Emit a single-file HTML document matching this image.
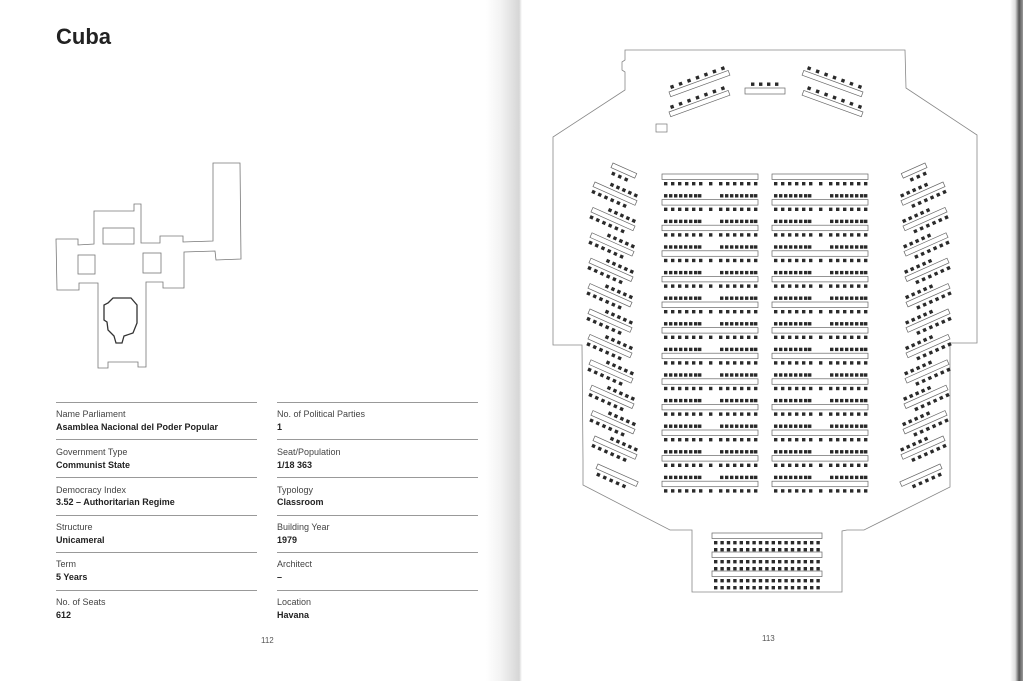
<!DOCTYPE html>
<html><head><meta charset="utf-8"><style>
html,body{margin:0;padding:0;}
body{width:1023px;height:681px;position:relative;overflow:hidden;background:#fff;font-family:"Liberation Sans",sans-serif;color:#222;}
.gut{position:absolute;left:486px;top:0;width:36px;height:681px;background:linear-gradient(to right,#fff 0%,#f3f3f3 40%,#e0e0e0 75%,#d6d6d6 92%,#fff 100%);}
.edge{position:absolute;left:1010px;top:0;width:13px;height:681px;background:linear-gradient(to right,#fff,#ddd 40%,#555 70%,#999);}
.t{position:absolute;font-size:9px;line-height:11px;}
.l{color:#444;}
.v{font-weight:bold;color:#222;}
.hr{position:absolute;height:1px;background:#999;width:201px;}
h1{position:absolute;left:56px;top:24px;margin:0;font-size:22px;font-weight:bold;color:#222;}
.pn{position:absolute;font-size:8px;color:#555;}
</style></head><body>
<div class="gut"></div>
<div class="edge"></div>
<h1>Cuba</h1>

<svg style="position:absolute;left:0;top:0" width="1023" height="681" viewBox="0 0 1023 681">
<g fill="none" stroke="#777" stroke-width="0.8">
<polygon points="56,239 78,239 78,245 94,244 94,211 134,211 134,204 141,204 141,243 160,243 160,236 183,236 183,242 213,241 213,163 240,163 241,259 216,260 215,251 184,252 184,288 163,288 163,282 146,282 146,367 138,367 138,362 108,362 108,368 98,368 98,283 79,283 79,290 57,290"/>
<rect x="103" y="228" width="31" height="16"/>
<rect x="78" y="255" width="17" height="19"/>
<rect x="143" y="253" width="18" height="20"/>
</g>
<polygon points="108,303 113,298 131,298 137,305 137,323 133,333 124,336 122,343 116,343 114,336 108,330 107,322 104,320 104,305" fill="none" stroke="#333" stroke-width="1.3"/>

<polygon points="625,50 905,50 906,88 977,135 977,343 950,343 950,487 864,530 847,530 842,531 842,592 692,592 692,530 670,530 583,485 583,460 582,345 553,345 553,137 625,90 625,72 622,70 622,62 625,60" fill="none" stroke="#888" stroke-width="0.8"/>

<defs>
<g id="sq"><rect width="3.4" height="3.4" fill="#2a2a2a"/></g>
<g id="rb">
<use href="#sq" x="2"/><use href="#sq" x="9"/><use href="#sq" x="16"/><use href="#sq" x="23"/><use href="#sq" x="30"/><use href="#sq" x="37"/>
<use href="#sq" x="47"/>
<use href="#sq" x="57"/><use href="#sq" x="64"/><use href="#sq" x="71"/><use href="#sq" x="78"/><use href="#sq" x="85"/><use href="#sq" x="92"/>
</g>
<g id="ra">
<use href="#sq" x="2"/><use href="#sq" x="7"/><use href="#sq" x="12"/><use href="#sq" x="17"/><use href="#sq" x="22"/><use href="#sq" x="27"/><use href="#sq" x="32"/><use href="#sq" x="36"/>
<use href="#sq" x="58"/><use href="#sq" x="63"/><use href="#sq" x="68"/><use href="#sq" x="73"/><use href="#sq" x="78"/><use href="#sq" x="83"/><use href="#sq" x="88"/><use href="#sq" x="92"/>
</g>
<g id="cu0"><rect x="0" y="0" width="96" height="5.5" fill="none" stroke="#666" stroke-width="0.7"/><use href="#rb" y="8"/></g>
<g id="cu"><use href="#ra" y="-5.5"/><use href="#cu0"/></g>
<g id="blk">
<use href="#cu0" y="174"/>
<use href="#cu" y="199.6"/><use href="#cu" y="225.2"/><use href="#cu" y="250.8"/><use href="#cu" y="276.4"/>
<use href="#cu" y="302"/><use href="#cu" y="327.6"/><use href="#cu" y="353.2"/><use href="#cu" y="378.8"/>
<use href="#cu" y="404.4"/><use href="#cu" y="430"/><use href="#cu" y="455.6"/><use href="#cu" y="481.2"/>
</g>
<g id="su">
<rect x="0" y="0" width="46" height="5" fill="none" stroke="#666" stroke-width="0.7"/>
<use href="#sq" x="15" y="-6"/><use href="#sq" x="21.5" y="-6"/><use href="#sq" x="28" y="-6"/><use href="#sq" x="34.5" y="-6"/><use href="#sq" x="41" y="-6"/>
<use href="#sq" x="1" y="8"/><use href="#sq" x="7.8" y="8"/><use href="#sq" x="14.6" y="8"/><use href="#sq" x="21.4" y="8"/><use href="#sq" x="28.2" y="8"/><use href="#sq" x="35" y="8"/>
</g>
<g id="side">
<g transform="translate(613,163) rotate(24)"><rect width="26" height="5" fill="none" stroke="#666" stroke-width="0.7"/><use href="#sq" x="3" y="8"/><use href="#sq" x="10" y="8"/><use href="#sq" x="17" y="8"/></g>
<use href="#su" transform="translate(595,182) rotate(24)"/>
<use href="#su" transform="translate(593,207.4) rotate(24)"/>
<use href="#su" transform="translate(592,232.8) rotate(24)"/>
<use href="#su" transform="translate(591,258.2) rotate(24)"/>
<use href="#su" transform="translate(590,283.6) rotate(24)"/>
<use href="#su" transform="translate(590,309) rotate(24)"/>
<use href="#su" transform="translate(590,334.4) rotate(24)"/>
<use href="#su" transform="translate(591,359.8) rotate(24)"/>
<use href="#su" transform="translate(592,385.2) rotate(24)"/>
<use href="#su" transform="translate(593,410.6) rotate(24)"/>
<use href="#su" transform="translate(595,436) rotate(24)"/>
<g transform="translate(598,464) rotate(24)"><rect width="44" height="5" fill="none" stroke="#666" stroke-width="0.7"/><use href="#sq" x="3" y="8"/><use href="#sq" x="10" y="8"/><use href="#sq" x="17" y="8"/><use href="#sq" x="24" y="8"/><use href="#sq" x="31" y="8"/></g>
</g>
<g id="tb">
<rect width="63" height="5" fill="none" stroke="#666" stroke-width="0.7"/>
<use href="#sq" x="3" y="-5.5"/><use href="#sq" x="12" y="-5.5"/><use href="#sq" x="21" y="-5.5"/><use href="#sq" x="30" y="-5.5"/><use href="#sq" x="39" y="-5.5"/><use href="#sq" x="48" y="-5.5"/><use href="#sq" x="57" y="-5.5"/>
</g>
<g id="top">
<use href="#tb" transform="translate(669,92) rotate(-20)"/>
<use href="#tb" transform="translate(669,112) rotate(-20)"/>
</g>
<g id="br">
<use href="#sq" x="0"/><use href="#sq" x="6.4"/><use href="#sq" x="12.8"/><use href="#sq" x="19.2"/><use href="#sq" x="25.6"/><use href="#sq" x="32"/><use href="#sq" x="38.4"/><use href="#sq" x="44.8"/><use href="#sq" x="51.2"/><use href="#sq" x="57.6"/><use href="#sq" x="64"/><use href="#sq" x="70.4"/><use href="#sq" x="76.8"/><use href="#sq" x="83.2"/><use href="#sq" x="89.6"/><use href="#sq" x="96"/><use href="#sq" x="102.4"/>
</g>
<g id="bu">
<rect x="712" y="0" width="110" height="5.5" fill="none" stroke="#666" stroke-width="0.7"/>
<use href="#br" x="714" y="8"/><use href="#br" x="714" y="15"/>
</g>
</defs>

<use href="#blk" x="662"/>
<use href="#blk" x="772"/>
<use href="#side"/>
<use href="#side" transform="translate(1538,0) scale(-1,1)"/>
<use href="#top"/>
<use href="#top" transform="translate(1532,0) scale(-1,1)"/>
<rect x="745" y="88" width="40" height="6" fill="none" stroke="#666" stroke-width="0.7"/>
<use href="#sq" x="751" y="82.5"/><use href="#sq" x="759" y="82.5"/><use href="#sq" x="767" y="82.5"/><use href="#sq" x="775" y="82.5"/>
<rect x="656" y="124" width="11" height="8" fill="none" stroke="#777" stroke-width="0.7"/>
<use href="#bu" y="533"/>
<use href="#bu" y="552"/>
<use href="#bu" y="571"/>
</svg>

<div class="hr" style="left:56px;top:402px"></div>
<div class="hr" style="left:277px;top:402px"></div>
<div class="t l" style="left:56px;top:409px">Name Parliament</div>
<div class="t v" style="left:56px;top:422px">Asamblea Nacional del Poder Popular</div>
<div class="t l" style="left:277px;top:409px">No. of Political Parties</div>
<div class="t v" style="left:277px;top:422px">1</div>

<div class="hr" style="left:56px;top:439px"></div>
<div class="hr" style="left:277px;top:439px"></div>
<div class="t l" style="left:56px;top:447px">Government Type</div>
<div class="t v" style="left:56px;top:460px">Communist State</div>
<div class="t l" style="left:277px;top:447px">Seat/Population</div>
<div class="t v" style="left:277px;top:460px">1/18 363</div>

<div class="hr" style="left:56px;top:477px"></div>
<div class="hr" style="left:277px;top:477px"></div>
<div class="t l" style="left:56px;top:485px">Democracy Index</div>
<div class="t v" style="left:56px;top:497px">3.52 – Authoritarian Regime</div>
<div class="t l" style="left:277px;top:485px">Typology</div>
<div class="t v" style="left:277px;top:497px">Classroom</div>

<div class="hr" style="left:56px;top:515px"></div>
<div class="hr" style="left:277px;top:515px"></div>
<div class="t l" style="left:56px;top:522px">Structure</div>
<div class="t v" style="left:56px;top:535px">Unicameral</div>
<div class="t l" style="left:277px;top:522px">Building Year</div>
<div class="t v" style="left:277px;top:535px">1979</div>

<div class="hr" style="left:56px;top:552px"></div>
<div class="hr" style="left:277px;top:552px"></div>
<div class="t l" style="left:56px;top:559px">Term</div>
<div class="t v" style="left:56px;top:572px">5 Years</div>
<div class="t l" style="left:277px;top:559px">Architect</div>
<div class="t v" style="left:277px;top:572px">–</div>

<div class="hr" style="left:56px;top:590px"></div>
<div class="hr" style="left:277px;top:590px"></div>
<div class="t l" style="left:56px;top:597px">No. of Seats</div>
<div class="t v" style="left:56px;top:610px">612</div>
<div class="t l" style="left:277px;top:597px">Location</div>
<div class="t v" style="left:277px;top:610px">Havana</div>

<div class="pn" style="left:261px;top:636px">112</div>
<div class="pn" style="left:762px;top:634px">113</div>
</body></html>
